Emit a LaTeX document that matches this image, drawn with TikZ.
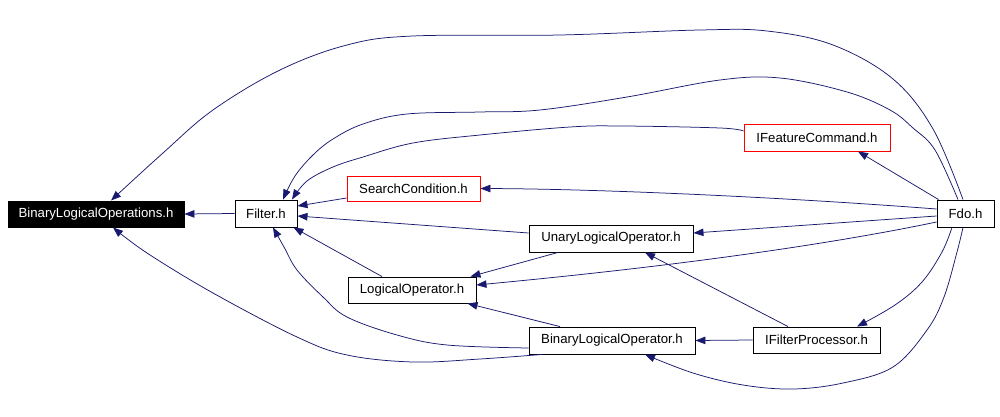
\documentclass[tikz,border=0pt]{standalone}
\usepackage{fontspec}
\setmainfont{Liberation Sans}
\usetikzlibrary{arrows.meta}
\definecolor{edgeblue}{RGB}{25,25,112}
\definecolor{boxred}{RGB}{255,0,0}
\tikzset{
  filebox/.style={draw=black, line width=0.9pt, rectangle, inner sep=0pt, font=\fontsize{13.2}{15}\selectfont, text=black},
  edge/.style={draw=edgeblue, line width=0.75pt, -{Triangle[length=10pt,width=7.5pt]}},
}
\begin{document}
\begin{tikzpicture}[x=1pt,y=-1pt]
\useasboundingbox (0,0) rectangle (1000,417);
\fill[white] (0,0) rectangle (1000,417);
% nodes
\node[filebox, fill=black, text=white, minimum width=176pt, minimum height=26pt] (BLO) at (96,214) {BinaryLogicalOperations.h};
\node[filebox, minimum width=62pt, minimum height=27pt] (Filter) at (266,213.5) {Filter.h};
\node[filebox, draw=boxred, minimum width=133pt, minimum height=25pt] (SC) at (413.5,188.5) {SearchCondition.h};
\node[filebox, draw=boxred, minimum width=146pt, minimum height=27pt] (IFC) at (817,137.5) {IFeatureCommand.h};
\node[filebox, minimum width=57pt, minimum height=27pt] (Fdo) at (965.5,213.5) {Fdo.h};
\node[filebox, minimum width=164pt, minimum height=27pt] (Unary) at (611,238.5) {UnaryLogicalOperator.h};
\node[filebox, minimum width=128pt, minimum height=26pt] (LO) at (412,290) {LogicalOperator.h};
\node[filebox, minimum width=166pt, minimum height=27pt] (Binary) at (612,340.5) {BinaryLogicalOperator.h};
\node[filebox, minimum width=127pt, minimum height=26pt] (IFP) at (816.5,340) {IFilterProcessor.h};
% edges
\draw[edge] (Filter.west) -- (BLO.east);
\draw[edge] plot[smooth, tension=0.6] coordinates {([xshift=-2.5pt]Fdo.north) (933,129) (893,79) (833,45) (767,31) (700,30) (560,35) (413,36) (347,45) (280,70) (213,110) (163,153) ([xshift=15pt]BLO.north)};
\draw[edge] plot[smooth, tension=0.6] coordinates {([xshift=-7.5pt]Fdo.north) (935,150) (913,128) (890,110) (847,92) (780,78) (720,80) (627,97) (540,110) (480,112) (407,114) (363,124) (333,139) (313,155) (295,176) ([xshift=17pt]Filter.north)};
\draw[edge] plot[smooth, tension=0.6] coordinates {([yshift=6.5pt]IFC.west) (720,128) (623,126) (570,127) (480,135) (413,143) (363,157) (333,167) (307,181) ([xshift=26pt]Filter.north)};
\draw[edge] ([xshift=2pt]Fdo.north west) -- ([xshift=41pt]IFC.south);
\draw[edge] ([yshift=-9.5pt]SC.west) -- ([yshift=7.5pt]Filter.east);
\draw[edge] ([yshift=4.5pt]Fdo.west) .. controls (780,197) and (600,189) .. (SC.east);
\draw[edge] ([yshift=5.5pt]Unary.west) -- ([yshift=-2.5pt]Filter.east);
\draw[edge] ([yshift=-2.5pt]Fdo.west) -- ([yshift=5.5pt]Unary.east);
\draw[edge] ([xshift=-30pt]LO.north) -- ([xshift=-4pt]Filter.south east);
\draw[edge] plot[smooth, tension=0.6] coordinates {([yshift=-7.5pt]Binary.west) (447,345) (397,335) (347,317) (323,297) (297,270) (284,247) ([xshift=7pt]Filter.south)};
\draw[edge] plot[smooth, tension=0.6] coordinates {([xshift=-70pt]Binary.south) (480,359) (413,362) (347,355) (297,337) (213,293) (147,253) ([xshift=17pt]BLO.south)};
\draw[edge] ([xshift=-53pt]Unary.south) -- ([xshift=-6pt]LO.north east);
\draw[edge] ([yshift=-8.5pt]Fdo.west) .. controls (860,238) and (720,262) .. ([yshift=5pt]LO.east);
\draw[edge] ([xshift=-52pt]Binary.north) -- ([xshift=-9pt]LO.south east);
\draw[edge] (IFP.west) -- (Binary.east);
\draw[edge] ([xshift=-28.5pt]IFP.north) -- ([xshift=34pt]Unary.south);
\draw[edge] plot[smooth, tension=0.6] coordinates {([xshift=-13.5pt]Fdo.south) (942,252) (922,282) (895,305) ([xshift=40.5pt]IFP.north)};
\draw[edge] plot[smooth, tension=0.6] coordinates {([xshift=-2.5pt]Fdo.south) (957,252) (944,297) (927,330) (893,367) (843,383) (793,389) (743,385) (693,373) ([xshift=33pt]Binary.south)};
\end{tikzpicture}
\end{document}
